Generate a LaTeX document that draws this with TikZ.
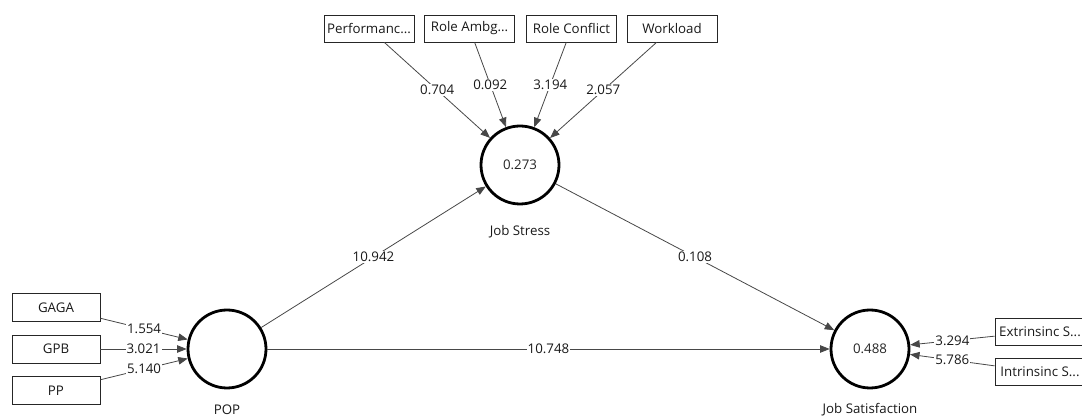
\documentclass[tikz,border=0pt]{standalone}
\usepackage{fontspec}
\setmainfont{Open Sans}
\usetikzlibrary{arrows.meta}
\newcommand{\fsz}{\fontsize{13.3}{15}\selectfont}
\begin{document}
\begin{tikzpicture}[x=1pt,y=-1pt,
  lv/.style={circle,draw=black,line width=2.8pt,minimum size=78pt,inner sep=0pt,font=\fsz,text=black!85},
  ind/.style={draw=black!85,line width=0.9pt,minimum width=90pt,minimum height=27pt,inner sep=0pt,font=\fsz,text=black!90},
  pth/.style={draw=black!72,line width=0.8pt,-{Triangle[length=9.5pt,width=7.5pt]}},
  wt/.style={fill=white,inner sep=1pt,font=\fsz,text=black!90},
  lvlab/.style={font=\fsz,text=black!90}]
\useasboundingbox (0,0) rectangle (1082,419);
% latent variables
\node[lv] (js) at (520,165) {0.273};
\node[lv] (pop) at (227,349) {};
\node[lv] (jsat) at (870,349) {0.488};
\node[lvlab] at (520,232) {Job Stress};
\node[lvlab] at (227,410) {POP};
\node[lvlab] at (870,410) {Job Satisfaction};
% indicators top
\node[ind] (pf) at (369,28.5) {Performanc...};
\node[ind] (ra) at (469.5,28.5) {Role Ambg...};
\node[ind] (rc) at (571.5,28.5) {Role Conflict};
\node[ind] (wl) at (672,28.5) {Workload};
% indicators left
\node[ind,minimum width=88pt,minimum height=28pt] (gaga) at (56,307.5) {GAGA};
\node[ind,minimum width=88pt,minimum height=28pt] (gpb) at (56,349) {GPB};
\node[ind,minimum width=88pt,minimum height=28pt] (pp) at (56,390.5) {PP};
% indicators right
\node[ind] (ext) at (1040,331.5) {Extrinsinc S...};
\node[ind] (int) at (1040,372) {Intrinsinc S...};
% paths
\draw[pth] (pf) -- node[midway,wt]{0.704} (js);
\draw[pth] (ra) -- node[midway,wt]{0.092} (js);
\draw[pth] (rc) -- node[midway,wt]{3.194} (js);
\draw[pth] (wl) -- node[midway,wt]{2.057} (js);
\draw[pth] (gaga) -- node[midway,wt]{1.554} (pop);
\draw[pth] (gpb) -- node[midway,wt]{3.021} (pop);
\draw[pth] (pp) -- node[midway,wt]{5.140} (pop);
\draw[pth] (ext) -- node[midway,wt]{3.294} (jsat);
\draw[pth] (int) -- node[midway,wt]{5.786} (jsat);
\draw[pth] (pop) -- node[midway,wt]{10.942} (js);
\draw[pth] (js) -- node[midway,wt]{0.108} (jsat);
\draw[pth] (pop) -- node[midway,wt]{10.748} (jsat);
\end{tikzpicture}
\end{document}
